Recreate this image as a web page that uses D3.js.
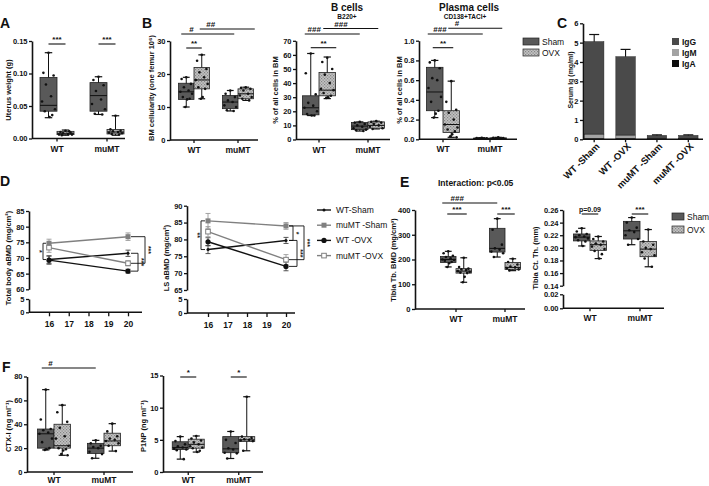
<!DOCTYPE html>
<html><head><meta charset="utf-8">
<script src="https://cdn.jsdelivr.net/npm/d3@7"></script>
<style>
body{margin:0;background:#fff;}
svg{display:block;font-family:"Liberation Sans",Arial,Helvetica,sans-serif;}
</style></head><body>
<svg id="fig" width="709" height="486"></svg>
<script>
// ---------------- DATA ----------------
const groups = ["WT", "muMT"];
const conds = ["Sham", "OVX"];
// box stats: [min, q1, median, q3, max] in order WT-Sham, WT-OVX, muMT-Sham, muMT-OVX
const uterusStats = [[0.032,0.042,0.051,0.094,0.132],[0.005,0.006,0.008,0.011,0.013],[0.037,0.042,0.066,0.086,0.095],[0.005,0.007,0.010,0.014,0.035]];
const uterusPts = [[0.132,0.101,0.097,0.083,0.065,0.057,0.045,0.042,0.036,0.033],[0.012,0.010,0.009,0.008,0.007,0.006,0.006,0.005,0.011],[0.095,0.090,0.082,0.073,0.060,0.053,0.045,0.038,0.037],[0.035,0.014,0.012,0.011,0.010,0.009,0.008,0.007,0.006]];
const bmStats = [[10,12.3,14.6,17.2,19],[12.5,15.5,18.2,22,25.8],[8.8,9.5,11.5,13.5,15],[12,12.5,14,15.5,16]];
const bmPts = [[19,18.5,17,16,15,14.6,14,13,12.5,12.3,10],[25.8,24,21.5,20.5,19,18.2,17,16,15.5,13,12.5],[15,14,13,12,11.5,10.5,10,9,8.8],[16,15.8,15.5,15,14,13.5,13,12.5,12]];
const bcellStats = [[17,17.5,22.5,31,61],[29,31,35,47.5,58.5],[6,7,9.5,12,12.5],[7.5,8,10,12.5,13]];
const bcellPts = [[61,47,32,26,24,22.5,20,18,17,17],[58,55,50,46,40,36,35,33,31,30,29.5],[12.5,12,11,10,9,8,7,6.5,6],[13,12.5,12,11,10,9,8,7.5]];
const plasmaStats = [[0.22,0.29,0.48,0.73,0.80],[0.02,0.07,0.15,0.29,0.59],[0.003,0.005,0.008,0.012,0.016],[0.004,0.006,0.010,0.014,0.020]];
const plasmaPts = [[0.80,0.78,0.72,0.62,0.60,0.52,0.43,0.38,0.29,0.26,0.22],[0.59,0.38,0.30,0.27,0.20,0.15,0.12,0.10,0.08,0.05,0.03,0.02],[0.015,0.012,0.010,0.008,0.006,0.005],[0.020,0.015,0.012,0.010,0.008,0.006]];
const igGroups = ["WT -Sham","WT -OVX","muMT -Sham","muMT -OVX"];
const igA = [0.05,0.05,0.02,0.02];
const igM = [0.22,0.17,0.02,0.02];
const igG = [4.78,4.05,0.16,0.16];
const igGerr = [0.37,0.38,0.03,0.03];
const weeks = [16,20];
const seriesNames = ["WT-Sham","muMT -Sham","WT -OVX","muMT -OVX"];
const tbBMD = [[69.5,71.5],[74.7,76.8],[69.3,65.8],[73.3,68.3]];
const tbBMDerr = [[1.2,1.0],[1.3,1.2],[1.3,0.6],[1.5,0.8]];
const lsBMD = [[77,79.7],[85.5,84],[79.3,72],[82.3,74]];
const lsBMDerr = [[1.2,0.9],[2.2,1.0],[1.2,1.3],[1.5,1.5]];
const tibStats = [[170,188,200,212,233],[108,145,153,163,207],[210,230,245,326,365],[155,160,168,188,203]];
const tibPts = [[233,225,215,210,205,200,198,195,190,185,170],[207,170,163,160,157,153,150,147,145,130,108],[365,320,260,245,240,232,225,210],[203,190,180,172,168,165,160,156]];
const ctStats = [[0.203,0.211,0.217,0.222,0.231],[0.183,0.196,0.205,0.211,0.218],[0.205,0.214,0.227,0.242,0.248],[0.170,0.186,0.198,0.210,0.229]];
const ctPts = [[0.231,0.226,0.222,0.220,0.218,0.217,0.215,0.212,0.210,0.203],[0.218,0.214,0.210,0.207,0.205,0.202,0.198,0.195,0.190,0.183],[0.248,0.240,0.232,0.228,0.225,0.220,0.214,0.205],[0.229,0.210,0.205,0.200,0.198,0.193,0.188,0.183,0.170]];
const ctxStats = [[18.5,20,32,36,69],[14,20,22,40,56],[11.5,15.5,20,24,26.5],[17.5,22,26,32.5,40.5]];
const ctxPts = [[69,44,36,35,33,32,28,25,20,19,18.5],[56,50,42,37,30,28,22,20,19,18,15,14],[26.5,24,22,21,20,17,15,11.5],[40.5,34,30,28,27,26,24,22,17.5]];
const p1npStats = [[2.0,3.5,3.8,4.7,5.5],[3.1,3.7,4.3,5.1,5.6],[2.1,3.0,3.6,5.5,6.3],[3.3,4.75,5.0,5.5,11.7]];
const p1npPts = [[5.5,4.8,4.3,4.0,3.8,3.6,3.5,3.4,2.0],[5.6,5.2,4.9,4.6,4.3,4.0,3.8,3.7,3.3,3.1],[6.3,5.0,4.5,3.7,3.5,3.0,2.9,2.1],[11.7,5.5,5.3,5.1,5.0,4.9,4.8,3.3]];

// ---------------- DRAW ----------------
const svg = d3.select("#fig");
const FONT = '"Liberation Sans",Arial,Helvetica,sans-serif';
const SHAM = "#595959", OVX = "url(#ovx)", GRAY = "#808080";
const defs = svg.append("defs");
const pat = defs.append("pattern").attr("id","ovx").attr("width",3).attr("height",3).attr("patternUnits","userSpaceOnUse");
pat.append("rect").attr("width",3).attr("height",3).attr("fill","#c2c2c2");
pat.append("rect").attr("width",1.2).attr("height",1.2).attr("fill","#858585");
pat.append("rect").attr("x",1.5).attr("y",1.5).attr("width",1.2).attr("height",1.2).attr("fill","#858585");

function txt(g,x,y,s,size,opt={}){
  const t = g.append("text").attr("x",x).attr("y",y).text(s).attr("font-size",size)
    .attr("font-weight",opt.weight||"bold").attr("text-anchor",opt.anchor||"start").attr("fill","#111");
  if(opt.rot!=null) t.attr("transform",`rotate(${opt.rot},${x},${y})`);
  return t;
}
function ylabel(g,x,y,s,size=7.5){
  txt(g,x,y,s,size,{anchor:"middle",rot:-90}).attr("dy","0.35em");
}
function styleAxis(ax){
  ax.attr("font-family",FONT).attr("font-size",7.5).attr("font-weight","bold");
  ax.select(".domain").attr("stroke","#111").attr("stroke-width",1.6);
  ax.selectAll(".tick line").attr("stroke","#111").attr("stroke-width",1.3);
  ax.selectAll(".tick text").attr("fill","#111");
}
function yAxis(g,scale,x,ticks,fmt){
  const ax = g.append("g").attr("transform",`translate(${x},0)`)
    .call(d3.axisLeft(scale).tickValues(ticks).tickFormat(fmt).tickSize(3).tickSizeOuter(0).tickPadding(1.5));
  styleAxis(ax);
  return ax;
}
function xBandAxis(g,band,y,x0,x1,labels=true,pad=4){
  const ax = g.append("g").attr("transform",`translate(0,${y})`)
    .call(d3.axisBottom(band).tickSize(3).tickSizeOuter(0).tickPadding(pad));
  styleAxis(ax);
  ax.select(".domain").remove();
  ax.selectAll(".tick text").attr("font-size",8.5);
  if(!labels) ax.selectAll(".tick text").remove();
  g.append("line").attr("x1",x0).attr("x2",x1).attr("y1",y).attr("y2",y).attr("stroke","#111").attr("stroke-width",1.6);
  return ax;
}
function broken(lowDom,lowRange,upDom,upRange){
  const lo=d3.scaleLinear().domain(lowDom).range(lowRange), up=d3.scaleLinear().domain(upDom).range(upRange);
  const f = v => v <= lowDom[1] ? lo(v) : up(v);
  f.lo=lo; f.up=up; return f;
}
const jit=[0,-0.3,0.3,-0.15,0.15,-0.38,0.38,-0.22,0.22,0.06,-0.06,0.32];

function boxChart(cfg){
  const g = svg.append("g");
  const band = d3.scaleBand().domain(groups).range(cfg.band);
  const w = cfg.boxW;
  const cond = d3.scaleBand().domain(conds).range([-w,w]);
  const cx = i => band(groups[i>>1]) + band.bandwidth()/2 + cond(conds[i%2]) + w/2;
  const y = cfg.y;
  if(cfg.y.lo){
    yAxis(g,cfg.y.up,cfg.ax,cfg.ticksUp,cfg.fmt);
    yAxis(g,cfg.y.lo,cfg.ax,cfg.ticksLo,cfg.fmt);
  } else yAxis(g,y,cfg.ax,cfg.ticks,cfg.fmt);
  xBandAxis(g,band,cfg.y0,cfg.ax,cfg.xEnd,true,cfg.xpad==null?4:cfg.xpad);
  ylabel(g,cfg.lx,cfg.ly,cfg.label);
  cfg.stats.forEach((s,i)=>{
    const c=cx(i);
    g.append("line").attr("x1",c).attr("x2",c).attr("y1",y(s[0])).attr("y2",y(s[4])).attr("stroke","#111").attr("stroke-width",1);
    [s[0],s[4]].forEach(v=>g.append("line").attr("x1",c-w*0.22).attr("x2",c+w*0.22).attr("y1",y(v)).attr("y2",y(v)).attr("stroke","#111").attr("stroke-width",1.2));
    g.append("rect").attr("x",c-w/2).attr("y",y(s[3])).attr("width",w).attr("height",Math.max(0.6,y(s[1])-y(s[3])))
      .attr("fill",i%2?OVX:SHAM).attr("stroke","#222").attr("stroke-width",0.8);
    g.append("line").attr("x1",c-w/2).attr("x2",c+w/2).attr("y1",y(s[2])).attr("y2",y(s[2])).attr("stroke","#111").attr("stroke-width",1);
    cfg.pts[i].forEach((v,k)=>{
      g.append("circle").attr("cx",c+jit[k%jit.length]*w).attr("cy",y(v)).attr("r",1.3).attr("fill","#111");
    });
  });
  (cfg.sig||[]).forEach(s=>{
    const e=s.e||[0,0];
    const x1=cx(s.a)+e[0], x2=cx(s.b)+e[1];
    g.append("line").attr("x1",x1).attr("x2",x2).attr("y1",s.y).attr("y2",s.y).attr("stroke","#111").attr("stroke-width",1.1);
    const f = s.f==null?0.5:s.f;
    txt(g,x1+(x2-x1)*f,s.y-2,s.t,s.t.startsWith("p")?7:8,{anchor:s.f==null?"middle":"start"});
  });
  return g;
}

// Panel letters
[["A",0,28],["B",142,28],["C",557,28],["D",0,186],["E",400,187],["F",2,372]].forEach(d=>txt(svg,d[1],d[2],d[0],14));

// A
boxChart({ax:32,xEnd:125,y:d3.scaleLinear().domain([0,0.15]).range([138.5,41]),ticks:[0,0.05,0.1,0.15],fmt:d3.format(".2f"),
  y0:138.5,band:[32,132],boxW:17,stats:uterusStats,pts:uterusPts,label:"Uterus weight (g)",lx:8,ly:90,
  sig:[{a:0,b:1,y:44,t:"***"},{a:2,b:3,y:44,t:"***"}]});
// B1
boxChart({ax:170,xEnd:258,y:d3.scaleLinear().domain([0,30]).range([140,41]),ticks:[0,10,20,30],fmt:d3.format("d"),
  y0:140,band:[172,260],boxW:15.5,stats:bmStats,pts:bmPts,label:"BM cellularity (one femur 10⁶)",lx:151,ly:88,
  sig:[{a:0,b:1,y:48,t:"**"},{a:0,b:2,y:34,t:"#",e:[-5,4],f:0.15},{a:1,b:3,y:29,t:"##",e:[-2,9],f:0.12}]});
// B2
boxChart({ax:296,xEnd:390,y:d3.scaleLinear().domain([0,70]).range([139.5,40.8]),ticks:d3.range(0,71,10),fmt:d3.format("d"),
  y0:139.5,band:[294.5,392.5],boxW:16.5,stats:bcellStats,pts:bcellPts,label:"% of all cells in BM",lx:275,ly:90,
  sig:[{a:0,b:1,y:47.7,t:"**",e:[0,9]},{a:0,b:2,y:34,t:"###",e:[-6,0],f:0.05},{a:1,b:3,y:28.5,t:"###",e:[-4,2],f:0.2}]});
txt(svg,347,11,"B cells",10,{anchor:"middle"});
txt(svg,347,19,"B220+",6.5,{anchor:"middle"});
// B3
boxChart({ax:419,xEnd:517,y:d3.scaleLinear().domain([0,1]).range([139.3,40.7]),ticks:[0,0.2,0.4,0.6,0.8,1.0],fmt:d3.format(".1f"),
  y0:139.3,band:[419.5,513.5],boxW:16.5,stats:plasmaStats,pts:plasmaPts,label:"% of all cells in BM",lx:399,ly:90,
  sig:[{a:0,b:1,y:47.7,t:"**",e:[-2,2]},{a:0,b:2,y:34,t:"###",e:[-7,1],f:0.1},{a:1,b:3,y:28.3,t:"#",e:[-3,4],f:0.12}]});
txt(svg,469,11,"Plasma cells",10,{anchor:"middle"});
txt(svg,465,19,"CD138+TACI+",6.5,{anchor:"middle"});
// Legend B
[["Sham",SHAM,38],["OVX",OVX,49]].forEach(d=>{
  svg.append("rect").attr("x",523).attr("y",d[2]).attr("width",16).attr("height",7).attr("fill",d[1]).attr("stroke","#222").attr("stroke-width",0.7);
  txt(svg,542,d[2]+6.5,d[0],8.5,{weight:"normal"});
});

// C stacked bars
(function(){
  const g = svg.append("g");
  const y = d3.scaleLinear().domain([0,6]).range([139.3,23.3]);
  const x = d3.scaleBand().domain(igGroups).range([578.5,704]).paddingInner(0.38).paddingOuter(0.19);
  const rows = igGroups.map((k,i)=>({grp:k,IgA:igA[i],IgM:igM[i],IgG:igG[i],err:igGerr[i]}));
  const keys=["IgA","IgM","IgG"], cols={IgG:"#4a4a4a",IgM:"#a3a3a3",IgA:"#0d0d0d"};
  const stack = d3.stack().keys(keys)(rows);
  stack.forEach(layer=>{
    g.selectAll(null).data(layer).enter().append("rect")
      .attr("x",d=>x(d.data.grp)).attr("width",x.bandwidth())
      .attr("y",d=>y(d[1])).attr("height",d=>y(d[0])-y(d[1]))
      .attr("fill",cols[layer.key]).attr("stroke","#222").attr("stroke-width",0.5);
  });
  rows.forEach(r=>{
    const tot=r.IgA+r.IgM+r.IgG, c=x(r.grp)+x.bandwidth()/2;
    g.append("line").attr("x1",c).attr("x2",c).attr("y1",y(tot)).attr("y2",y(tot+r.err)).attr("stroke","#111").attr("stroke-width",1.1);
    g.append("line").attr("x1",c-5).attr("x2",c+5).attr("y1",y(tot+r.err)).attr("y2",y(tot+r.err)).attr("stroke","#111").attr("stroke-width",1.2);
  });
  yAxis(g,y,583,d3.range(0,7),d3.format("d"));
  xBandAxis(g,x,139.3,583,703,false);
  igGroups.forEach(k=>{
    const c=x(k)+x.bandwidth()/2;
    txt(g,c+6,147,k,9.5,{anchor:"end",rot:-45});
  });
  ylabel(g,571,80,"Serum Ig (mg/ml)",7);
  [["IgG",38],["IgM",49],["IgA",60]].forEach(d=>{
    g.append("rect").attr("x",672).attr("y",d[1]).attr("width",7).attr("height",7).attr("fill",cols[d[0]]);
    txt(g,682,d[1]+6.5,d[0],8.5);
  });
})();

// D line charts
const markers = [
  {col:"#111",shape:"dot"},{col:GRAY,shape:"sq"},{col:"#111",shape:"circle"},{col:GRAY,shape:"osq"}];
function marker(g,x,y,i){
  const m=markers[i];
  if(m.shape==="dot") g.append("circle").attr("cx",x).attr("cy",y).attr("r",1.5).attr("fill",m.col);
  if(m.shape==="circle") g.append("circle").attr("cx",x).attr("cy",y).attr("r",2.6).attr("fill",m.col);
  if(m.shape==="sq") g.append("rect").attr("x",x-2.5).attr("y",y-2.5).attr("width",5).attr("height",5).attr("fill",m.col);
  if(m.shape==="osq") g.append("rect").attr("x",x-2.3).attr("y",y-2.3).attr("width",4.6).attr("height",4.6).attr("fill","#fff").attr("stroke",m.col).attr("stroke-width",1);
}
function lineChart(cfg){
  const g = svg.append("g");
  const x = d3.scaleLinear().domain([16,20]).range(cfg.xr);
  const y = cfg.y;
  yAxis(g,y.up,cfg.ax,cfg.ticksUp,d3.format("d"));
  yAxis(g,y.lo,cfg.ax,[0,5],d3.format("d"));
  const xa = g.append("g").attr("transform",`translate(0,${cfg.y0})`)
    .call(d3.axisBottom(x).tickValues([16,17,18,19,20]).tickFormat(d3.format("d")).tickSize(4).tickSizeOuter(0).tickPadding(5));
  styleAxis(xa); xa.select(".domain").remove(); xa.selectAll(".tick text").attr("font-size",8.5);
  g.append("line").attr("x1",cfg.ax).attr("x2",cfg.xEnd).attr("y1",cfg.y0).attr("y2",cfg.y0).attr("stroke","#111").attr("stroke-width",1.6);
  ylabel(g,cfg.lx,cfg.ly,cfg.label);
  const line = d3.line().x((d,k)=>x(weeks[k])).y(d=>y(d));
  cfg.data.forEach((s,i)=>{
    g.append("path").attr("d",line(s)).attr("fill","none").attr("stroke",markers[i].col).attr("stroke-width",1.4);
  });
  cfg.data.forEach((s,i)=>{
    s.forEach((v,k)=>{
      const e=cfg.err[i][k], xx=x(weeks[k]);
      const ec = markers[i].col==="#111"?"#444":"#9a9a9a";
      g.append("line").attr("x1",xx).attr("x2",xx).attr("y1",y(v-e)).attr("y2",y(v+e)).attr("stroke",ec).attr("stroke-width",0.9);
      [v-e,v+e].forEach(u=>g.append("line").attr("x1",xx-2.5).attr("x2",xx+2.5).attr("y1",y(u)).attr("y2",y(u)).attr("stroke",ec).attr("stroke-width",0.9));
    });
  });
  cfg.data.forEach((s,i)=>s.forEach((v,k)=>marker(g,x(weeks[k]),y(v),i)));
  cfg.br.forEach(b=>{
    const k=weeks.indexOf(b.w), xx=x(b.w), X=xx+b.dx, sgn=Math.sign(b.dx);
    const ya=y(cfg.data[b.a][k]), yb=y(cfg.data[b.b][k]);
    g.append("line").attr("x1",X).attr("x2",X).attr("y1",ya).attr("y2",yb).attr("stroke","#111").attr("stroke-width",0.9);
    [ya,yb].forEach(yy=>g.append("line").attr("x1",xx+sgn*3).attr("x2",X).attr("y1",yy).attr("y2",yy).attr("stroke","#111").attr("stroke-width",0.9));
    txt(g,X+sgn*3.5,(ya+yb)/2,b.t,7,{anchor:"middle",rot:90}).attr("dy","0.35em");
  });
}
lineChart({ax:29,xEnd:142,xr:[49,128],y0:312.3,y:broken([0,5],[312.3,299],[60,85],[289.3,211]),ticksUp:[60,65,70,75,80,85],
  data:tbBMD,err:tbBMDerr,label:"Total body aBMD (mg/cm²)",lx:8,ly:258,
  br:[{w:16,a:1,b:0,dx:-6,t:"*"},{w:20,a:1,b:3,dx:17,t:"***"},{w:20,a:0,b:2,dx:10,t:"***"}]});
lineChart({ax:187,xEnd:295,xr:[208,286],y0:313,y:broken([0,5],[313,299],[65,90],[290,205.7]),ticksUp:[65,70,75,80,85,90],
  data:lsBMD,err:lsBMDerr,label:"LS aBMD (mg/cm²)",lx:166,ly:258,
  br:[{w:16,a:1,b:0,dx:-7,t:"**"},{w:20,a:1,b:0,dx:7,t:"*"},{w:20,a:1,b:3,dx:18,t:"***"},{w:20,a:0,b:2,dx:11,t:"***"}]});
// Legend D
seriesNames.forEach((n,i)=>{
  const yy=210+i*15.2;
  svg.append("line").attr("x1",317).attr("x2",331).attr("y1",yy).attr("y2",yy).attr("stroke",markers[i].col).attr("stroke-width",1.4);
  marker(svg,324,yy,i);
  txt(svg,336,yy+3,n,8.5,{weight:"normal"});
});

// E
txt(svg,438,186,"Interaction: p<0.05",8.5);
boxChart({ax:415,xEnd:525,y:d3.scaleLinear().domain([0,400]).range([309,210]),ticks:[0,100,200,300,400],fmt:d3.format("d"),
  y0:309,band:[431.5,529.5],boxW:15.5,stats:tibStats,pts:tibPts,label:"Tibia Tb. BMD (mg/cm³)",lx:393,ly:260,
  sig:[{a:0,b:2,y:203,t:"###",e:[-6,0],f:0.15},{a:0,b:1,y:214,t:"***",e:[-1,3]},{a:2,b:3,y:214,t:"***",e:[0,2]}]});
boxChart({ax:563,xEnd:664,y:broken([0,0.02],[308.3,294.3],[0.14,0.26],[285.7,210]),ticksUp:[0.14,0.16,0.18,0.2,0.22,0.24,0.26],ticksLo:[0,0.02],fmt:d3.format(".2f"),
  y0:308.3,band:[565,665],boxW:16.5,stats:ctStats,pts:ctPts,label:"Tibia Ct. Th. (mm)",lx:535,ly:258,
  sig:[{a:0,b:1,y:214,t:"p=0.09"},{a:2,b:3,y:214,t:"***"}]});
[["Sham",SHAM,213],["OVX",OVX,226]].forEach(d=>{
  svg.append("rect").attr("x",672).attr("y",d[2]).attr("width",12).attr("height",7).attr("fill",d[1]).attr("stroke","#222").attr("stroke-width",0.7);
  txt(svg,687,d[2]+6.5,d[0],8.5,{weight:"normal"});
});

// F
boxChart({ax:27,xEnd:133,y:d3.scaleLinear().domain([0,80]).range([472,376.5]),ticks:[0,20,40,60,80],fmt:d3.format("d"),
  y0:472,xpad:2,band:[29,129],boxW:16.5,stats:ctxStats,pts:ctxPts,label:"CTX-I (ng ml⁻¹)",lx:8,ly:426,
  sig:[{a:0,b:2,y:368,t:"#",e:[-4,0],f:0.12}]});
boxChart({ax:163,xEnd:263,y:d3.scaleLinear().domain([0,15]).range([472,375.5]),ticks:[0,5,10,15],fmt:d3.format("d"),
  y0:472,xpad:2,band:[163,264],boxW:16,stats:p1npStats,pts:p1npPts,label:"P1NP (ng ml⁻¹)",lx:143,ly:426,
  sig:[{a:0,b:1,y:377,t:"*"},{a:2,b:3,y:377,t:"*"}]});
</script>
</body></html>
